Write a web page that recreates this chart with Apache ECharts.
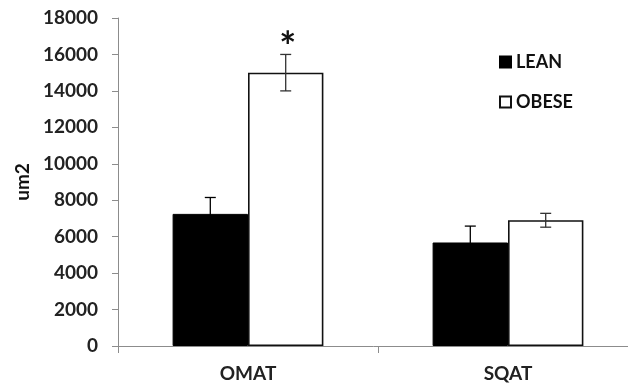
<!DOCTYPE html>
<html><head><meta charset="utf-8">
<script src="https://cdn.jsdelivr.net/npm/echarts@6/dist/echarts.min.js"></script>
<style>html,body{margin:0;padding:0;background:#fff}#c{width:628px;height:389px}</style>
</head><body><div id="c"></div>
<script>
const categories = ['OMAT', 'SQAT'];
const seriesNames = ['LEAN', 'OBESE'];
const leanValues = [7250, 5680];
const leanErrors = [900, 900];
const obeseValues = [15000, 6900];
const obeseErrors = [1000, 380];
const obeseMarks = ['*', ''];
const yTicks = [0, 2000, 4000, 6000, 8000, 10000, 12000, 14000, 16000, 18000];

const FONT = 'Lato';
const chart = echarts.init(document.getElementById('c'), null, {renderer: 'canvas'});
const gapFrac = 0.42;

function errSeries(values, errors, side, marks, color) {
  return {
    type: 'custom',
    z: 5,
    silent: true,
    data: values.map((v, i) => [i, v, errors[i]]),
    renderItem: function (params, api) {
      const i = api.value(0), v = api.value(1), e = api.value(2);
      const band = api.size([1, 0])[0];
      const off = band * (1 - gapFrac) / 4 * side;
      const c = api.coord([i, v]);
      const x = c[0] + off;
      const top = api.coord([i, v + e])[1];
      const bot = api.coord([i, v - e])[1];
      const cap = 5.5;
      const st = {stroke: color, lineWidth: 1.3};
      const children = [
        {type: 'line', shape: {x1: x, y1: top, x2: x, y2: bot}, style: st},
        {type: 'line', shape: {x1: x - cap, y1: top, x2: x + cap, y2: top}, style: st},
        {type: 'line', shape: {x1: x - cap, y1: bot, x2: x + cap, y2: bot}, style: st}
      ];
      const m = marks ? marks[params.dataIndex] : '';
      if (m) {
        children.push({type: 'text', style: {text: m, x: x + 2, y: top - 6, align: 'center', verticalAlign: 'middle',
          font: 'bold 40px ' + FONT, fill: '#111'}});
      }
      return {type: 'group', children: children};
    }
  };
}

chart.setOption({
  animation: false,
  backgroundColor: '#fff',
  grid: {left: 118, width: 520, top: 18, bottom: 43, containLabel: false, outerBoundsMode: 'none'},
  legend: {
    orient: 'vertical', left: 499, top: 53, itemGap: 22, padding: 0,
    itemWidth: 11, itemHeight: 11, icon: 'rect',
    data: seriesNames,
    textStyle: {fontFamily: FONT, fontWeight: 'bold', fontSize: 18, color: '#111'}
  },
  xAxis: {
    type: 'category', data: categories,
    axisLine: {lineStyle: {color: '#8c8c8c', width: 1}},
    axisTick: {show: true, length: 7, lineStyle: {color: '#8c8c8c'}},
    axisLabel: {fontFamily: FONT, fontWeight: 'bold', fontSize: 19, color: '#222', margin: 18}
  },
  yAxis: {
    type: 'value', min: 0, max: 18000, interval: 2000,
    name: 'um2', nameLocation: 'middle', nameGap: 83, nameRotate: 90,
    nameTextStyle: {fontFamily: FONT, fontWeight: 'bold', fontSize: 19, color: '#111'},
    axisLine: {show: true, lineStyle: {color: '#8c8c8c', width: 1}},
    axisTick: {show: true, length: 6, lineStyle: {color: '#8c8c8c'}},
    splitLine: {show: false},
    axisLabel: {fontFamily: FONT, fontWeight: 'bold', fontSize: 19, color: '#222', margin: 20,
      formatter: v => yTicks.includes(v) ? String(v) : ''}
  },
  series: [
    {name: seriesNames[0], type: 'bar', data: leanValues, barGap: '0%', barCategoryGap: (gapFrac * 100) + '%',
      itemStyle: {color: '#000', borderColor: '#000', borderWidth: 1}},
    {name: seriesNames[1], type: 'bar', data: obeseValues, barGap: '0%', barCategoryGap: (gapFrac * 100) + '%',
      itemStyle: {color: '#fff', borderColor: '#111', borderWidth: 1.6}},
    errSeries(leanValues, leanErrors, -1, null, '#000'),
    errSeries(obeseValues, obeseErrors, 1, obeseMarks, '#333')
  ]
});
</script></body></html>
